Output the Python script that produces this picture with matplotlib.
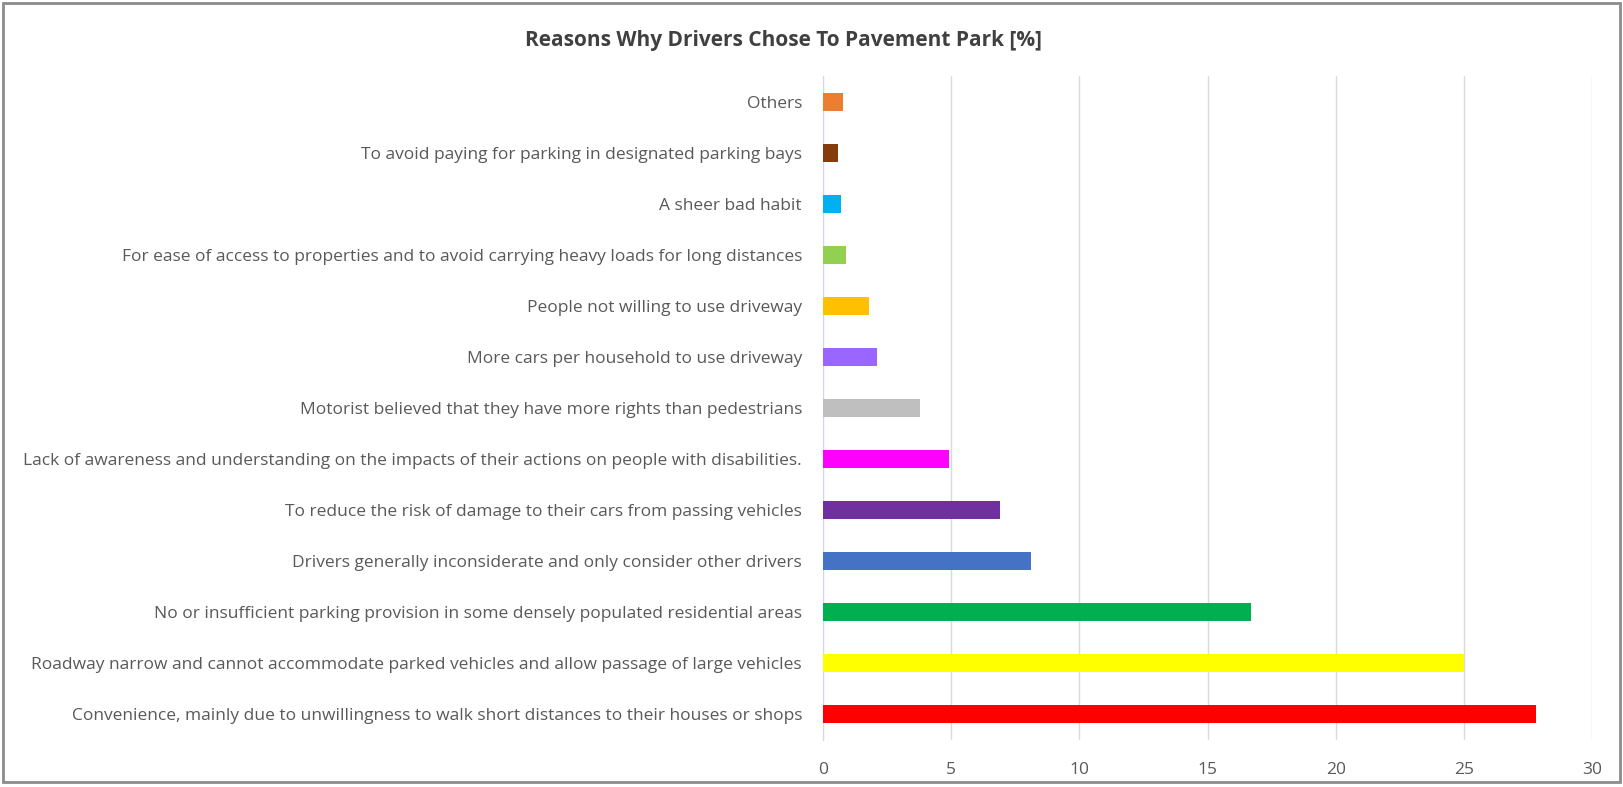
import matplotlib
matplotlib.use('Agg')
import matplotlib.pyplot as plt
from matplotlib.patches import Rectangle

reasons = [
    'Convenience, mainly due to unwillingness to walk short distances to their houses or shops',
    'Roadway narrow and cannot accommodate parked vehicles and allow passage of large vehicles',
    'No or insufficient parking provision in some densely populated residential areas',
    'Drivers generally inconsiderate and only consider other drivers',
    'To reduce the risk of damage to their cars from passing vehicles',
    'Lack of awareness and understanding on the impacts of their actions on people with disabilities.',
    'Motorist believed that they have more rights than pedestrians',
    'More cars per household to use driveway',
    'People not willing to use driveway',
    'For ease of access to properties and to avoid carrying heavy loads for long distances',
    'A sheer bad habit',
    'To avoid paying for parking in designated parking bays',
    'Others',
]
percent = [27.8, 25.0, 16.7, 8.1, 6.9, 4.9, 3.8, 2.1, 1.8, 0.9, 0.7, 0.6, 0.8]
colors = ['#ff0000', '#ffff00', '#00b050', '#4472c4', '#7030a0', '#ff00ff', '#bfbfbf',
          '#9966ff', '#ffc000', '#92d050', '#00b0f0', '#843c0c', '#ed7d31']
xticks = [0, 5, 10, 15, 20, 25, 30]

plt.rcParams['font.family'] = ['Liberation Sans Narrow', 'Open Sans', 'DejaVu Sans']

fig = plt.figure(figsize=(16.23, 7.87), dpi=100)
ax = fig.add_axes([0.507, 0.060, 0.474, 0.843])

ax.barh(range(len(reasons)), percent, height=0.36, color=colors, zorder=3)
ax.set_yticks(range(len(reasons)))
ax.set_yticklabels(reasons, fontsize=12.5, color='#595959')
ax.set_xticks(xticks)
ax.set_xticklabels([str(t) for t in xticks], fontsize=12.5, color='#595959')
ax.set_xlim(0, 30)
ax.set_ylim(-0.5, len(reasons) - 0.5)

ax.grid(axis='x', color='#d9d9d9', linewidth=1, zorder=0)
for s in ['top', 'right', 'bottom']:
    ax.spines[s].set_visible(False)
ax.spines['left'].set_color('#d0d8e8')
ax.tick_params(axis='y', length=0, pad=15)
ax.tick_params(axis='x', length=0, pad=16)

fig.text(0.483, 0.948, 'Reasons Why Drivers Chose To Pavement Park [%]', ha='center', va='center',
         fontsize=15, fontweight='bold', color='#404040')

fig.patches.append(Rectangle((0.002, 0.006), 0.996, 0.99, transform=fig.transFigure,
                             fill=False, edgecolor='#8c8c8c', linewidth=2))

fig.savefig('out.png', dpi=100)
